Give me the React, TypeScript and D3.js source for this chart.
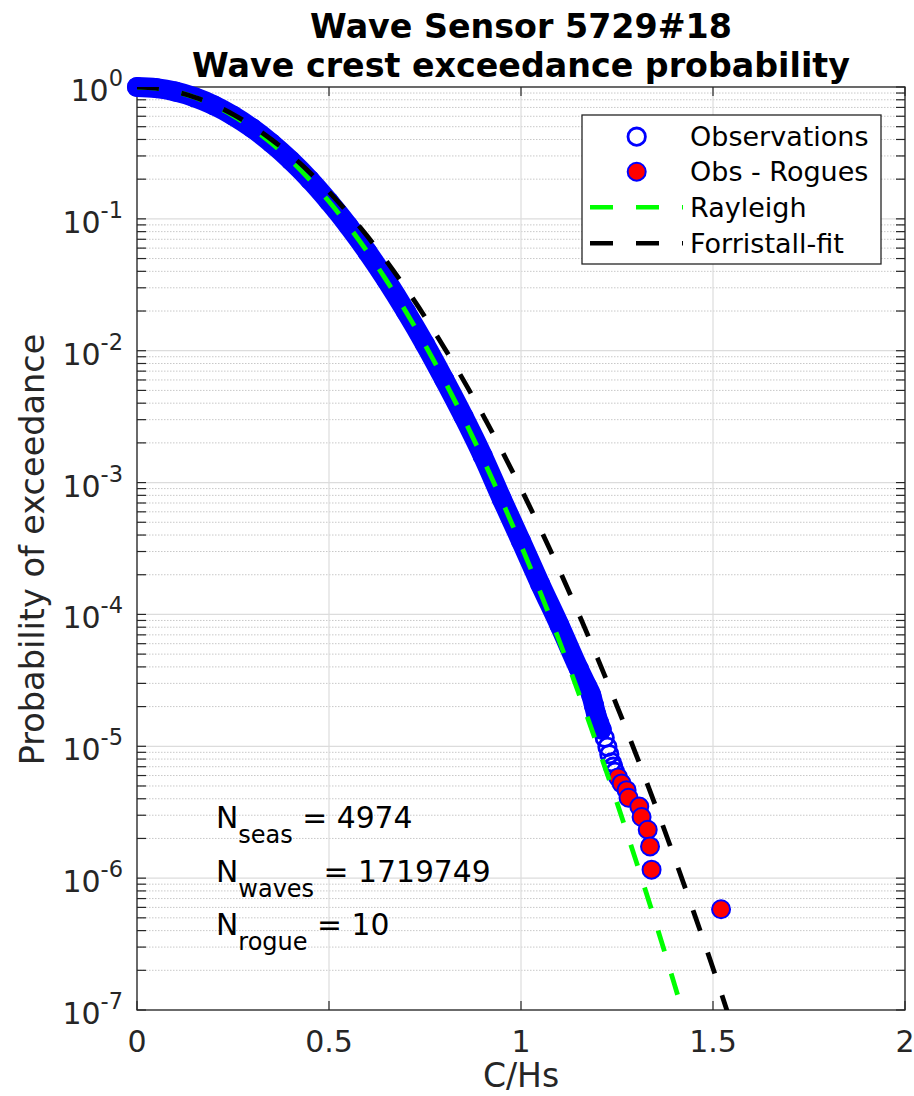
import React from "react";
import * as d3 from "d3";

const obsX = [0, 0.05, 0.1, 0.15, 0.2, 0.25, 0.3, 0.35, 0.4, 0.45, 0.5, 0.55, 0.6, 0.65, 0.7, 0.75, 0.8, 0.85, 0.9, 0.95, 1.0, 1.05, 1.1, 1.15, 1.171, 1.183, 1.19, 1.196, 1.203, 1.21, 1.218, 1.225, 1.23, 1.236, 1.24, 1.245];
const obsP = [1, 0.98, 0.924, 0.836, 0.727, 0.607, 0.487, 0.375, 0.278, 0.198, 0.135, 0.0889, 0.0561, 0.0341, 0.0199, 0.0112, 0.00605, 0.00318, 0.0016, 7.5e-4, 3.6e-4, 1.7e-4, 8.3e-5, 3.9e-5, 2.9e-5, 2.44e-5, 2.04e-5, 1.74e-5, 1.51e-5, 1.34e-5, 1.16e-5, 9.9e-6, 8.7e-6, 7.56e-6, 7.0e-6, 6.4e-6];

const rogueX = [1.253, 1.262, 1.275, 1.28, 1.308, 1.314, 1.33, 1.336, 1.34, 1.521];
const rogueP = [5.81e-6, 5.23e-6, 4.65e-6, 4.07e-6, 3.49e-6, 2.91e-6, 2.33e-6, 1.74e-6, 1.16e-6, 5.81e-7];

const curveX = [0, 0.05, 0.1, 0.15, 0.2, 0.25, 0.3, 0.35, 0.4, 0.45, 0.5, 0.55, 0.6, 0.65, 0.7, 0.75, 0.8, 0.85, 0.9, 0.95, 1.0, 1.05, 1.1, 1.15, 1.2, 1.25, 1.3, 1.35, 1.4, 1.45, 1.5, 1.55];
const rayleighP = [1, 0.9802, 0.9231, 0.8353, 0.7261, 0.6065, 0.4868, 0.3753, 0.278, 0.1979, 0.1353, 0.0889, 0.0561, 0.034, 0.01984, 0.01111, 0.005976, 0.003088, 0.001534, 7.32e-4, 3.35e-4, 1.478e-4, 6.26e-5, 2.54e-5, 9.93e-6, 3.73e-6, 1.34e-6, 4.66e-7, 1.55e-7, 4.96e-8, 1.4e-8, 3.5e-9];
const forristallP = [1, 0.9791, 0.9223, 0.8374, 0.7334, 0.6202, 0.5066, 0.3997, 0.3049, 0.2248, 0.1603, 0.1106, 0.0738, 0.04767, 0.0298, 0.01802, 0.01055, 0.005982, 0.003285, 0.001747, 8.99e-4, 4.48e-4, 2.166e-4, 1.015e-4, 4.6e-5, 2.02e-5, 8.6e-6, 3.56e-6, 1.42e-6, 5.5e-7, 2.07e-7, 7.5e-8];

const xTicks = [0, 0.5, 1, 1.5, 2];
const xTickLabels = ["0", "0.5", "1", "1.5", "2"];
const yExponents = [0, -1, -2, -3, -4, -5, -6, -7];

const titleLines = ["Wave Sensor 5729#18", "Wave crest exceedance probability"];
const legendLabels = ["Observations", "Obs - Rogues", "Rayleigh", "Forristall-fit"];
const annotations = [
  { sub: "seas", value: "4974" },
  { sub: "waves", value: "1719749" },
  { sub: "rogue", value: "10" },
];

const W = 914;
const H = 1096;
const M = { left: 137, right: 905, top: 87, bottom: 1010 };
const FONT = "DejaVu Sans, sans-serif";
const AX = "#262626";

export default function App() {
  const x = d3.scaleLinear().domain([0, 2]).range([M.left, M.right]);
  const y = d3.scaleLog().domain([1e-7, 1]).range([M.bottom, M.top]);

  const obs = obsX.map((v, i) => ({ x: v, p: obsP[i] }));
  const band = obs.filter((d) => d.p >= 1.3e-5);
  const rogues = rogueX.map((v, i) => ({ x: v, p: rogueP[i] }));
  const ray = curveX.map((v, i) => ({ x: v, p: rayleighP[i] }));
  const forr = curveX.map((v, i) => ({ x: v, p: forristallP[i] }));

  const line = d3
    .line<{ x: number; p: number }>()
    .x((d) => x(d.x))
    .y((d) => y(d.p))
    .curve(d3.curveMonotoneX);

  const minor: number[] = [];
  for (let e = -7; e < 0; e++) {
    for (let k = 2; k <= 9; k++) minor.push(k * Math.pow(10, e));
  }

  const tickLen = 9;
  const legX = 582;
  const legY = 115;
  const legRows = [136.7, 171.7, 207.3, 243.3];

  return (
    <svg
      width={W}
      height={H}
      style={{ position: "absolute", left: 0, top: 0, background: "#fff" }}
      fontFamily={FONT}
    >
      <defs>
        <clipPath id="plotclip">
          <rect x={M.left} y={M.top} width={M.right - M.left} height={M.bottom - M.top} />
        </clipPath>
      </defs>
      <rect x={0} y={0} width={W} height={H} fill="#fff" />

      {/* minor grid */}
      {minor.map((v, i) => (
        <line key={"mg" + i} x1={M.left} x2={M.right} y1={y(v)} y2={y(v)} stroke="#c8c8c8" strokeWidth={1} strokeDasharray="1.5 1.5" />
      ))}
      {/* major grid */}
      {yExponents.map((e) => (
        <line key={"yg" + e} x1={M.left} x2={M.right} y1={y(Math.pow(10, e))} y2={y(Math.pow(10, e))} stroke="#dcdcdc" strokeWidth={1.2} />
      ))}
      {xTicks.map((t) => (
        <line key={"xg" + t} x1={x(t)} x2={x(t)} y1={M.top} y2={M.bottom} stroke="#dcdcdc" strokeWidth={1.2} />
      ))}

      {/* axes box */}
      <rect x={M.left} y={M.top} width={M.right - M.left} height={M.bottom - M.top} fill="none" stroke={AX} strokeWidth={1.3} />
      {/* ticks */}
      {xTicks.map((t) => (
        <g key={"xt" + t}>
          <line x1={x(t)} x2={x(t)} y1={M.bottom} y2={M.bottom - tickLen} stroke={AX} strokeWidth={1.2} />
          <line x1={x(t)} x2={x(t)} y1={M.top} y2={M.top + tickLen} stroke={AX} strokeWidth={1.2} />
        </g>
      ))}
      {[...minor, ...yExponents.map((e) => Math.pow(10, e))].map((v, i) => (
        <g key={"yt" + i}>
          <line x1={M.left} x2={M.left + tickLen} y1={y(v)} y2={y(v)} stroke={AX} strokeWidth={1.2} />
          <line x1={M.right} x2={M.right - tickLen} y1={y(v)} y2={y(v)} stroke={AX} strokeWidth={1.2} />
        </g>
      ))}

      {/* tick labels */}
      {xTicks.map((t, i) => (
        <text key={"xl" + t} x={x(t)} y={1052} textAnchor="middle" fontSize={30} fill={AX}>
          {xTickLabels[i]}
        </text>
      ))}
      {yExponents.map((e) => (
        <text key={"yl" + e} x={123} y={y(Math.pow(10, e)) + 14} textAnchor="end" fontSize={30} fill={AX}>
          <tspan>10</tspan>
          <tspan fontSize={22.5} dy={-15}>{String(e)}</tspan>
        </text>
      ))}

      {/* axis labels */}
      <text x={(M.left + M.right) / 2} y={1087} textAnchor="middle" fontSize={33} fill={AX}>
        C/Hs
      </text>
      <text
        transform={`translate(44, ${(M.top + M.bottom) / 2 + 1}) rotate(-90)`}
        textAnchor="middle"
        fontSize={33.5}
        fill={AX}
      >
        Probability of exceedance
      </text>

      {/* title */}
      {titleLines.map((t, i) => (
        <text key={"ti" + i} x={(M.left + M.right) / 2} y={37.5 + i * 39.5} textAnchor="middle" fontSize={33.3} fontWeight="bold" fill="#000">
          {t}
        </text>
      ))}

      {/* observations */}
      <path d={line(band) || ""} fill="none" stroke="#0000ff" strokeWidth={20} strokeLinecap="round" strokeLinejoin="round" />
      {obs.map((d, i) => (
        <circle key={"o" + i} cx={x(d.x)} cy={y(d.p)} r={8.7} fill="none" stroke="#0000ff" strokeWidth={2.8} />
      ))}

      {/* rogues */}
      {rogues.map((d, i) => (
        <circle key={"r" + i} cx={x(d.x)} cy={y(d.p)} r={9} fill="#ff0000" stroke="#0000ff" strokeWidth={2} />
      ))}

      {/* theoretical curves */}
      <g clipPath="url(#plotclip)">
        <path d={line(ray) || ""} fill="none" stroke="#00ff00" strokeWidth={4.8} strokeDasharray="22 23" />
        <path d={line(forr) || ""} fill="none" stroke="#000" strokeWidth={4.8} strokeDasharray="22 23" />
      </g>

      {/* annotations */}
      {annotations.map((a, i) => (
        <text key={"an" + i} x={216} y={828 + i * 53.5} fontSize={29.8} fill="#000">
          <tspan>N</tspan>
          <tspan fontSize={24} dy={15}>{a.sub}</tspan>
          <tspan dy={-15}>{" = " + a.value}</tspan>
        </text>
      ))}

      {/* legend */}
      <rect x={legX} y={legY} width={299} height={149} fill="#fff" stroke={AX} strokeWidth={1.3} />
      <circle cx={636.7} cy={legRows[0]} r={8.7} fill="#fff" stroke="#0000ff" strokeWidth={2.8} />
      <circle cx={636.7} cy={legRows[1]} r={9} fill="#ff0000" stroke="#0000ff" strokeWidth={2} />
      <line x1={590} x2={683} y1={legRows[2]} y2={legRows[2]} stroke="#00ff00" strokeWidth={4.5} strokeDasharray="23 23" />
      <line x1={590} x2={683} y1={legRows[3]} y2={legRows[3]} stroke="#000" strokeWidth={4.5} strokeDasharray="23 23" />
      {legendLabels.map((l, i) => (
        <text key={"lg" + i} x={690} y={legRows[i] + 9.6} fontSize={27} fill="#000">
          {l}
        </text>
      ))}
    </svg>
  );
}
